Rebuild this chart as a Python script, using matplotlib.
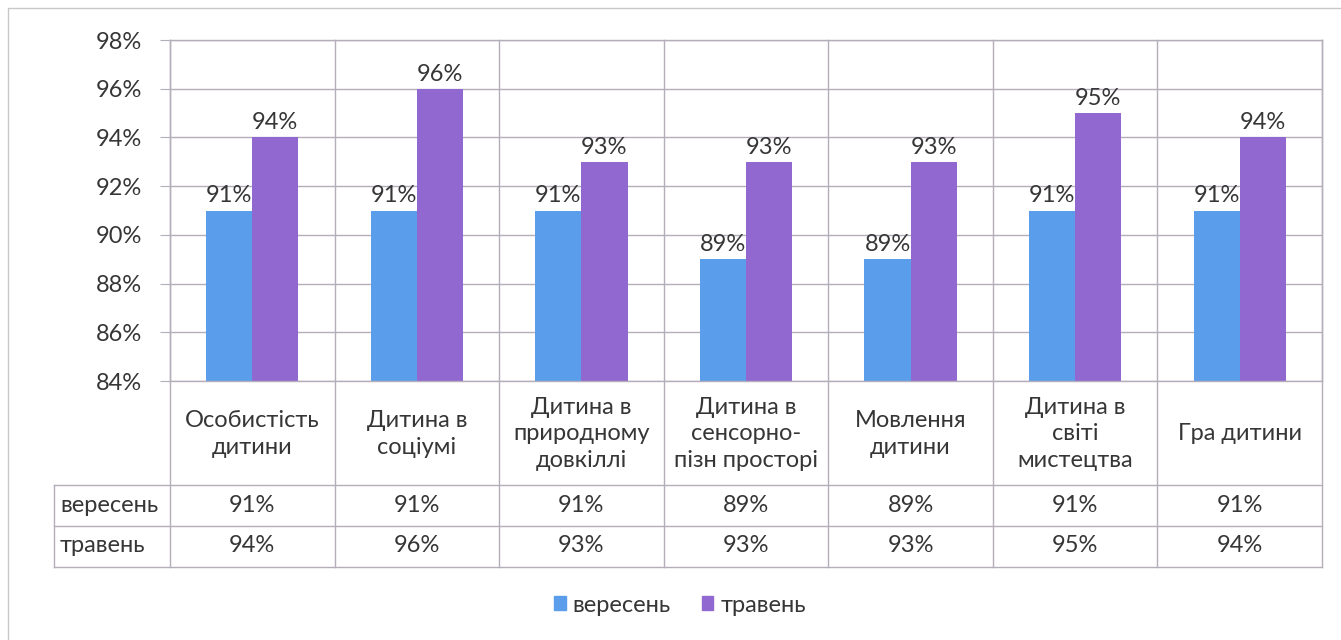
import matplotlib
matplotlib.use("Agg")
import matplotlib.pyplot as plt
import matplotlib.transforms as mtransforms
from matplotlib.patches import Rectangle, Patch
import numpy as np

plt.rcParams["font.family"] = ["Lato", "DejaVu Sans"]

categories = [
    "Особистість\nдитини",
    "Дитина в\nсоціумі",
    "Дитина в\nприродному\nдовкіллі",
    "Дитина в\nсенсорно-\nпізн просторі",
    "Мовлення\nдитини",
    "Дитина в\nсвіті\nмистецтва",
    "Гра дитини",
]
series_names = ["вересень", "травень"]
september = [91, 91, 91, 89, 89, 91, 91]
may = [94, 96, 93, 93, 93, 95, 94]
yticks = [84, 86, 88, 90, 92, 94, 96, 98]

blue = "#5A9EEB"
purple = "#9168D0"
gridc = "#B4ADBA"
textc = "#363636"
fs = 17

W, H = 1341, 640
fig = plt.figure(figsize=(W / 100, H / 100), dpi=100)

ax = fig.add_axes([170 / W, 1 - 381 / H, (1322 - 170) / W, (381 - 40) / H])
x = np.arange(len(categories))
bw = 0.28
b1 = ax.bar(x - bw / 2, september, bw, color=blue, zorder=2)
b2 = ax.bar(x + bw / 2, may, bw, color=purple, zorder=2)
ax.bar_label(b1, labels=[f"{v}%" for v in september], padding=3, fontsize=fs, color=textc)
ax.bar_label(b2, labels=[f"{v}%" for v in may], padding=3, fontsize=fs, color=textc)

ax.set_xlim(-0.5, len(categories) - 0.5)
ax.set_ylim(yticks[0], yticks[-1])
ax.set_yticks(yticks)
ax.set_yticklabels([f"{v}%" for v in yticks])
ax.set_xticks([])
ax.yaxis.grid(True, color=gridc, lw=1)
ax.set_axisbelow(True)
ax.tick_params(axis="y", length=7, color=gridc, labelsize=fs, labelcolor=textc, pad=13)
for s in ax.spines.values():
    s.set_color(gridc)
    s.set_linewidth(1)

# overlay in pixel coords for the data table and border
ov = fig.add_axes([0, 0, 1, 1])
ov.set_xlim(0, W)
ov.set_ylim(H, 0)
ov.axis("off")
ov.patch.set_visible(False)
tr = mtransforms.blended_transform_factory(ax.transData, ov.transData)

ov.add_patch(Rectangle((8, 8), W + 20, H + 20, fill=False, edgecolor="#C8C8C8", lw=1))

rows = [485, 526, 567]
for b in np.arange(-0.5, len(categories), 1.0):
    ov.plot([b, b], [40, rows[-1]], color=gridc, lw=1, transform=tr)
for yy in rows:
    ov.plot([54, 1322], [yy, yy], color=gridc, lw=1)
ov.plot([54, 54], [rows[0], rows[-1]], color=gridc, lw=1)

for i, c in enumerate(categories):
    ov.text(i, 434, c, ha="center", va="center", fontsize=fs, color=textc,
            linespacing=1.3, transform=tr)
    ov.text(i, 505, f"{september[i]}%", ha="center", va="center", fontsize=fs,
            color=textc, transform=tr)
    ov.text(i, 546, f"{may[i]}%", ha="center", va="center", fontsize=fs,
            color=textc, transform=tr)
ov.text(60, 505, series_names[0], ha="left", va="center", fontsize=fs, color=textc)
ov.text(60, 546, series_names[1], ha="left", va="center", fontsize=fs, color=textc)

handles = [Patch(color=blue, label=series_names[0]), Patch(color=purple, label=series_names[1])]
fig.legend(handles=handles, loc="center", bbox_to_anchor=(680 / W, 1 - 605 / H), ncol=2,
           frameon=False, fontsize=fs, handlelength=0.5, handleheight=0.5,
           handletextpad=0.3, columnspacing=1.3, labelcolor=textc)

fig.savefig("out.png", dpi=100, facecolor="white")
